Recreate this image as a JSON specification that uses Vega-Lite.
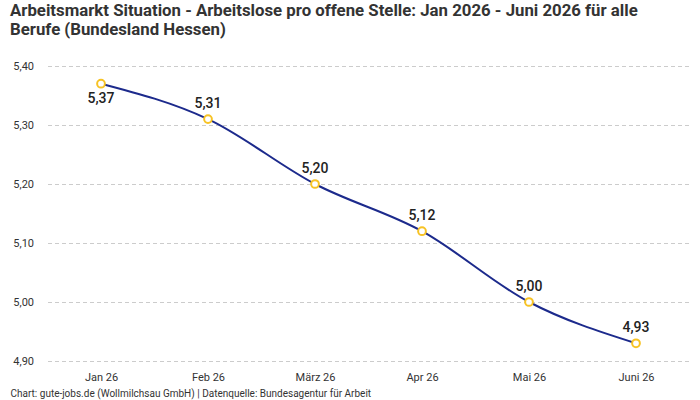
{
  "$schema": "https://vega.github.io/schema/vega-lite/v6.json",
  "autosize": "none",
  "width": 642,
  "height": 295,
  "padding": {"left": 47.5, "top": 66, "right": 10.5, "bottom": 39},
  "background": "white",
  "config": {
    "font": "Roboto",
    "view": {"stroke": null},
    "locale": {"number": {"decimal": ",", "thousands": ".", "grouping": [3], "currency": ["", " €"]}}
  },
  "title": {
    "text": ["Arbeitsmarkt Situation - Arbeitslose pro offene Stelle: Jan 2026 - Juni 2026 für alle", "Berufe (Bundesland Hessen)"],
    "anchor": "start",
    "frame": "group",
    "dx": -37.5,
    "offset": 21,
    "fontSize": 16.8,
    "fontWeight": "bold",
    "lineHeight": 19,
    "color": "#333333",
    "font": "Roboto"
  },
  "data": {
    "values": [
      {"monat": "Jan 26", "wert": 5.37},
      {"monat": "Feb 26", "wert": 5.31},
      {"monat": "März 26", "wert": 5.20},
      {"monat": "Apr 26", "wert": 5.12},
      {"monat": "Mai 26", "wert": 5.00},
      {"monat": "Juni 26", "wert": 4.93}
    ]
  },
  "encoding": {
    "x": {
      "field": "monat",
      "type": "ordinal",
      "sort": null,
      "scale": {"type": "point", "padding": 0.5},
      "axis": {
        "domain": false,
        "ticks": false,
        "labelAngle": 0,
        "labelFontSize": 11,
        "labelColor": "#333333",
        "labelPadding": 10,
        "title": "Chart: gute-jobs.de (Wollmilchsau GmbH) | Datenquelle: Bundesagentur für Arbeit",
        "titleFontSize": 10,
        "titleFontWeight": "normal",
        "titleColor": "#333333",
        "titleAnchor": "start",
        "titleAlign": "left",
        "titleX": -37.5,
        "titlePadding": 6
      }
    },
    "y": {
      "field": "wert",
      "type": "quantitative",
      "scale": {"domain": [4.9, 5.4], "zero": false, "nice": false},
      "axis": {
        "values": [4.9, 5.0, 5.1, 5.2, 5.3, 5.4],
        "format": ".2f",
        "domain": false,
        "ticks": false,
        "title": null,
        "labelFontSize": 11,
        "labelColor": "#333333",
        "labelPadding": 14,
        "gridColor": "#cccccc",
        "gridDash": [4, 3]
      }
    }
  },
  "layer": [
    {
      "mark": {"type": "line", "interpolate": "monotone", "color": "#1c2a8c", "strokeWidth": 2}
    },
    {
      "mark": {"type": "point", "shape": "circle", "filled": true, "fill": "white", "stroke": "#f7c325", "strokeWidth": 2, "size": 60, "opacity": 1}
    },
    {
      "transform": [{"filter": "datum.monat == 'Jan 26'"}],
      "mark": {"type": "text", "dy": 15, "fontSize": 14, "color": "#222222", "fontWeight": 500},
      "encoding": {"text": {"field": "wert", "type": "quantitative", "format": ".2f"}}
    },
    {
      "transform": [{"filter": "datum.monat != 'Jan 26'"}],
      "mark": {"type": "text", "dy": -15, "fontSize": 14, "color": "#222222", "fontWeight": 500},
      "encoding": {"text": {"field": "wert", "type": "quantitative", "format": ".2f"}}
    }
  ]
}
